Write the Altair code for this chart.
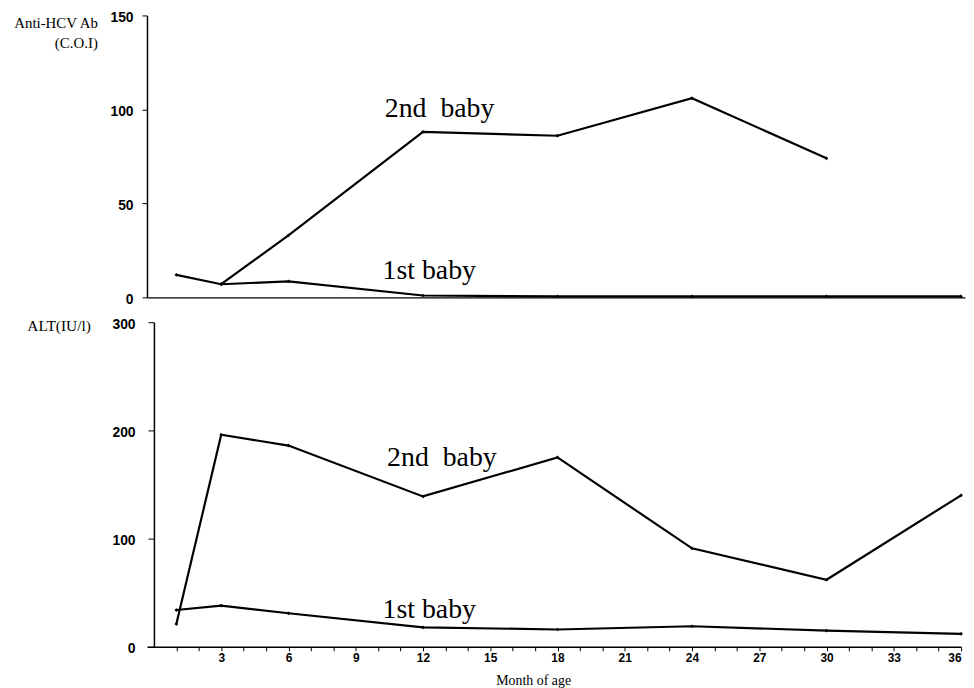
import altair as alt
import pandas as pd

# ---- data ----
months = [1, 3, 6, 12, 18, 24, 30, 36]
ab_1st = [12, 7, 8.5, 1, 0.5, 0.5, 0.5, 0.5]
ab_2nd_months = [3, 6, 12, 18, 24, 30]
ab_2nd = [7, 33, 88, 86, 106, 74]
alt_1st = [34, 38, 31, 18, 16, 19, 15, 12]
alt_2nd = [21, 196, 186, 139, 175, 91, 62, 140]

top_ticks = [0, 50, 100, 150]
bottom_ticks = [0, 100, 200, 300]
month_ticks = list(range(1, 37))

series_labels = ["2nd\u00a0\u00a0baby", "1st baby"]
top_label_pos = {"month": [10.3, 10.2], "value": [100, 14]}
bottom_label_pos = {"month": [10.4, 10.2], "value": [174, 34]}

serif = "Liberation Serif"
sans = "Liberation Sans"

top_df = pd.concat([
    pd.DataFrame({"month": months, "value": ab_1st, "baby": "1st"}),
    pd.DataFrame({"month": ab_2nd_months, "value": ab_2nd, "baby": "2nd"}),
])
bot_df = pd.concat([
    pd.DataFrame({"month": months, "value": alt_1st, "baby": "1st"}),
    pd.DataFrame({"month": months, "value": alt_2nd, "baby": "2nd"}),
])
top_lab = pd.DataFrame({"label": series_labels, **top_label_pos})
bot_lab = pd.DataFrame({"label": series_labels, **bottom_label_pos})

# ---- top panel ----
x_top = alt.X("month:Q", scale=alt.Scale(domain=[-0.31, 36.18], nice=False, zero=False),
              axis=alt.Axis(labels=False, ticks=False, title=None, grid=False,
                            domainColor="black", domainWidth=1.5))
y_top = alt.Y("value:Q", scale=alt.Scale(domain=[0, 150], nice=False),
              axis=alt.Axis(values=top_ticks, grid=False,
                            title=["Anti-HCV Ab", "(C.O.I)"], titleAngle=0, titleAlign="right",
                            titleX=-50, titleY=0, titleBaseline="top", titleLineHeight=20,
                            titleFont=serif, titleFontSize=15, titleFontWeight="normal",
                            titleColor="black",
                            labelFont=sans, labelFontWeight="bold", labelFontSize=14,
                            labelColor="black", labelPadding=9, labelOffset=2, tickSize=5,
                            tickColor="black", domainColor="black", domainWidth=1.5))

top_lines = alt.Chart(top_df).mark_line(color="black", strokeWidth=2.2).encode(detail="baby:N")
top_pts = alt.Chart(top_df).mark_point(color="black", filled=True, shape="diamond",
                                       size=14, opacity=1)
top_text = alt.Chart(top_lab).mark_text(font=serif, fontSize=28, align="left",
                                         baseline="middle", color="black").encode(text="label:N")
top = alt.layer(top_lines, top_pts, top_text).encode(x=x_top, y=y_top).properties(
    width=824, height=284)

# ---- bottom panel ----
x_bot = alt.X("month:Q", scale=alt.Scale(domain=[-0.31, 36], nice=False, zero=False),
              axis=alt.Axis(values=month_ticks, grid=False, labelOverlap=False,
                            labelExpr="datum.value % 3 == 0 ? datum.label : ''",
                            labelFont=sans, labelFontWeight="bold", labelFontSize=12,
                            labelColor="black", labelPadding=2, tickSize=4,
                            tickColor="black", domainColor="black", domainWidth=1.5,
                            title="Month of age", titleFont=serif, titleFontSize=14,
                            titleFontWeight="normal", titleColor="black",
                            titleX=389, titleY=34, titleBaseline="middle",
                            titleAnchor="start", titleAlign="center"))
y_bot = alt.Y("value:Q", scale=alt.Scale(domain=[0, 300], nice=False),
              axis=alt.Axis(values=bottom_ticks, grid=False, offset=-7,
                            title="ALT(IU/l)", titleAngle=0, titleAlign="left",
                            titleX=-128, titleY=3, titleBaseline="middle",
                            titleFont=serif, titleFontSize=15.5, titleFontWeight="normal",
                            titleColor="black",
                            labelFont=sans, labelFontWeight="bold", labelFontSize=14,
                            labelColor="black", labelPadding=13, labelOffset=2, tickSize=6,
                            tickColor="black", domainColor="black", domainWidth=1.5))

bot_lines = alt.Chart(bot_df).mark_line(color="black", strokeWidth=2.2).encode(detail="baby:N")
bot_pts = alt.Chart(bot_df).mark_point(color="black", filled=True, shape="diamond",
                                       size=14, opacity=1)
bot_text = alt.Chart(bot_lab).mark_text(font=serif, fontSize=28, align="left",
                                         baseline="middle", color="black").encode(text="label:N")
bottom = alt.layer(bot_lines, bot_pts, bot_text).encode(x=x_bot, y=y_bot).properties(
    width=820, height=327)

chart = alt.vconcat(top, bottom, spacing=25, bounds="flush").properties(
    padding={"left": 4, "top": 0, "right": 0, "bottom": 0},
    background="white",
).configure_view(stroke=None).configure_axis(labelOverlap=False)

chart.save("out.html", embed_options={"renderer": "svg", "actions": False})
